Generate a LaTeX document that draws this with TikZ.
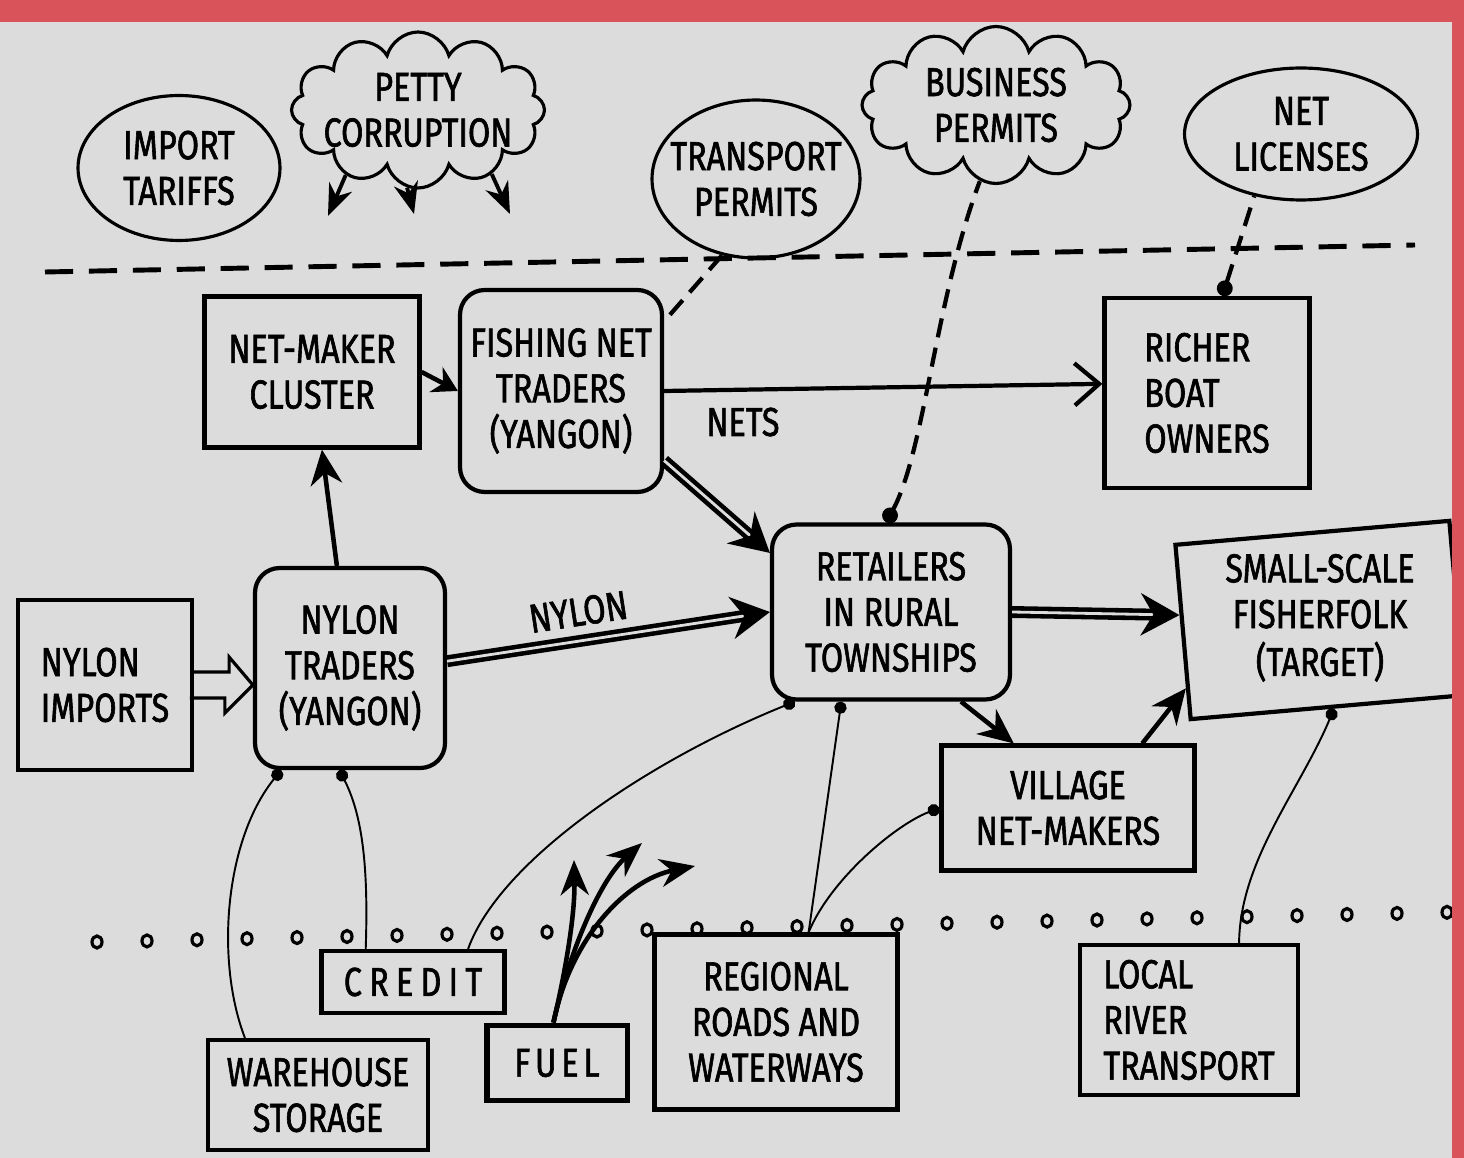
\documentclass[tikz,border=0pt]{standalone}
\usepackage{fontspec}
\setmainfont{Fira Sans}[FakeStretch=0.8, FakeBold=1.5]
\usetikzlibrary{shapes.geometric,shapes.symbols,arrows.meta,calc}

\definecolor{paper}{HTML}{DCDCDC}
\definecolor{rim}{HTML}{D9535B}

\tikzset{
  txt/.style={font=\fontsize{23}{26}\selectfont, align=center, inner sep=3pt},
  box/.style={txt, draw, line width=2.4pt},
  rbox/.style={box, rounded corners=14pt},
  oval/.style={txt, draw, ellipse, inner sep=-14pt, line width=1.8pt},
  puff/.style={txt, draw, cloud, cloud puffs=12, cloud ignores aspect, inner sep=-14pt, line width=1.8pt},
  flow/.style={line width=2.6pt, -{Stealth[length=20pt, width=18pt]}},
  wide/.style={line width=2.6pt, double=paper, double distance=1.6pt, -{Stealth[length=22pt, width=24pt]}},
  perm/.style={line width=2.4pt, dash pattern=on 11pt off 6pt},
  tie/.style={line width=1.1pt, {Circle[length=7pt]}-},
}

\begin{document}
\begin{tikzpicture}[x=0.02cm, y=-0.02cm]
\useasboundingbox (0,0) rectangle (1464,1158);
\fill[paper] (0,0) rectangle (1464,1158);

\node[oval, minimum width=4.04cm, minimum height=2.9cm](tariffs) at (179,168) {IMPORT\\TARIFFS};
\node[puff, minimum width=5.06cm, minimum height=3.12cm](petty) at (418,110) {PETTY\\CORRUPTION};
\node[oval, minimum width=4.16cm, minimum height=3.16cm](transport) at (756,179) {TRANSPORT\\PERMITS};
\node[puff, minimum width=5.36cm, minimum height=3.14cm](business) at (996,105) {BUSINESS\\PERMITS};
\node[oval, minimum width=4.66cm, minimum height=2.64cm](licenses) at (1301,134) {NET\\LICENSES};

\draw[line width=2.8pt, dash pattern=on 16pt off 9pt] (45,272) -- (1415,245);

\node[box, minimum width=4.3cm, minimum height=3.02cm](netmaker) at (312,372) {NET-MAKER\\CLUSTER};
\node[rbox, minimum width=4.04cm, minimum height=4.04cm](fishing) at (561,391) {FISHING NET\\TRADERS\\(YANGON)};
\node[box, align=left, minimum width=4.1cm, minimum height=3.8cm](richer) at (1207,393) {RICHER\\BOAT\\OWNERS};
\node[box, align=left, minimum width=3.48cm, minimum height=3.4cm](imports) at (105,685) {NYLON\\IMPORTS};
\node[rbox, minimum width=3.8cm, minimum height=4cm](traders) at (350,668) {NYLON\\TRADERS\\(YANGON)};
\node[rbox, minimum width=4.76cm, minimum height=3.5cm](retailers) at (891,612) {RETAILERS\\IN RURAL\\TOWNSHIPS};
\node[box, minimum width=5.5cm, minimum height=3.5cm, rotate=5](smallscale) at (1320,620)
  {\rotatebox{-5}{\begin{tabular}{@{}c@{}}SMALL-SCALE\\FISHERFOLK\\(TARGET)\end{tabular}}};
\node[box, minimum width=5.06cm, minimum height=2.5cm](village) at (1068,808) {VILLAGE\\NET-MAKERS};

\foreach \i in {0,...,27}
  \draw[line width=1.8pt] ({97+50*\i},{942-1.1*\i}) ellipse [x radius=5, y radius=6];

\node[box, minimum width=3.66cm, minimum height=1.24cm](credit) at (413,982) {\addfontfeature{LetterSpace=18}CREDIT};
\node[box, minimum width=4.4cm, minimum height=2.2cm](warehouse) at (318,1095) {WAREHOUSE\\STORAGE};
\node[box, line width=3.4pt, minimum width=2.82cm, minimum height=1.5cm](fuel) at (557,1063) {\addfontfeature{LetterSpace=12}FUEL};
\node[box, minimum width=4.86cm, minimum height=3.5cm](regional) at (776,1022) {REGIONAL\\ROADS AND\\WATERWAYS};
\node[box, align=left, minimum width=4.36cm, minimum height=3cm](local) at (1189,1020) {LOCAL\\RIVER\\TRANSPORT};

\coordinate (p1) at (328,216);
\coordinate (p2) at (414,214);
\coordinate (p3) at (510,214);
\draw[flow, line width=2.2pt, -{Stealth[length=18pt, width=14pt]}] (petty.-138) -- (p1);
\draw[flow, line width=2.2pt, -{Stealth[length=18pt, width=14pt]}] (petty.-98) -- (p2);
\draw[flow, line width=2.2pt, -{Stealth[length=18pt, width=14pt]}] (petty.-41) -- (p3);

\draw[line width=1.8pt, line join=miter] ($(imports.east)+(0,-13)$) -- ++(35,0) -- ++(0,-15)
  -- (imports.east -| traders.west) -- ++(-28,28) -- ++(0,-15) -- ++(-35,0);
\draw[flow] (traders) -- (netmaker);
\draw[flow, -{Stealth[length=14pt, width=16pt]}] (netmaker.east) -- (fishing.west);
\draw[line width=2.4pt, -{Straight Barb[length=14pt, width=24pt]}] (fishing.east) -- (richer.175)
  node[txt, pos=0.18, below=6pt]{NETS};
\draw[wide] (fishing.-34) -- (retailers.154);
\draw[wide] (traders.4) -- (retailers.west) node[txt, pos=0.42, above=4pt, sloped]{NYLON};
\draw[wide] (retailers.east) -- (smallscale.173);
\draw[flow] (retailers.-52) -- (village.130);
\draw[flow] (village.41) -- (smallscale.202);

\draw[perm] (transport.-114) -- (fishing.34);
\draw[perm, {Circle[length=9pt]}-] (retailers.93) .. controls (925,450) and (935,300) .. (business.-102);
\draw[perm, {Circle[length=9pt]}-] (richer.81) -- (licenses.-127);

\draw[tie] (traders.-124) .. controls (225,840) and (215,960) .. (warehouse.142);
\draw[tie] (traders.-96) .. controls (365,820) and (368,880) .. (credit.145);
\draw[tie] (retailers.-137) .. controls (650,760) and (500,860) .. (credit.31);
\draw[tie] (retailers.-119) -- (regional.70);
\draw[tie] (village.west) .. controls (895,825) and (830,880) .. (regional.70);
\draw[tie] (smallscale.-86) .. controls (1300,790) and (1240,860) .. (local.57);

\coordinate (f1) at (574,860);
\coordinate (f2) at (642,843);
\coordinate (f3) at (695,866);
\draw[flow, -{Stealth[length=20pt, width=16pt]}] (fuel.95) .. controls (568,960) and (575,910) .. (f1);
\draw[flow, -{Stealth[length=20pt, width=16pt]}] (fuel.95) .. controls (570,950) and (600,880) .. (f2);
\draw[flow, -{Stealth[length=20pt, width=16pt]}] (fuel.95) .. controls (570,940) and (625,880) .. (f3);

\fill[rim] (0,0) rectangle (1464,22);
\fill[rim] (1452,0) rectangle (1464,1158);
\end{tikzpicture}
\end{document}
